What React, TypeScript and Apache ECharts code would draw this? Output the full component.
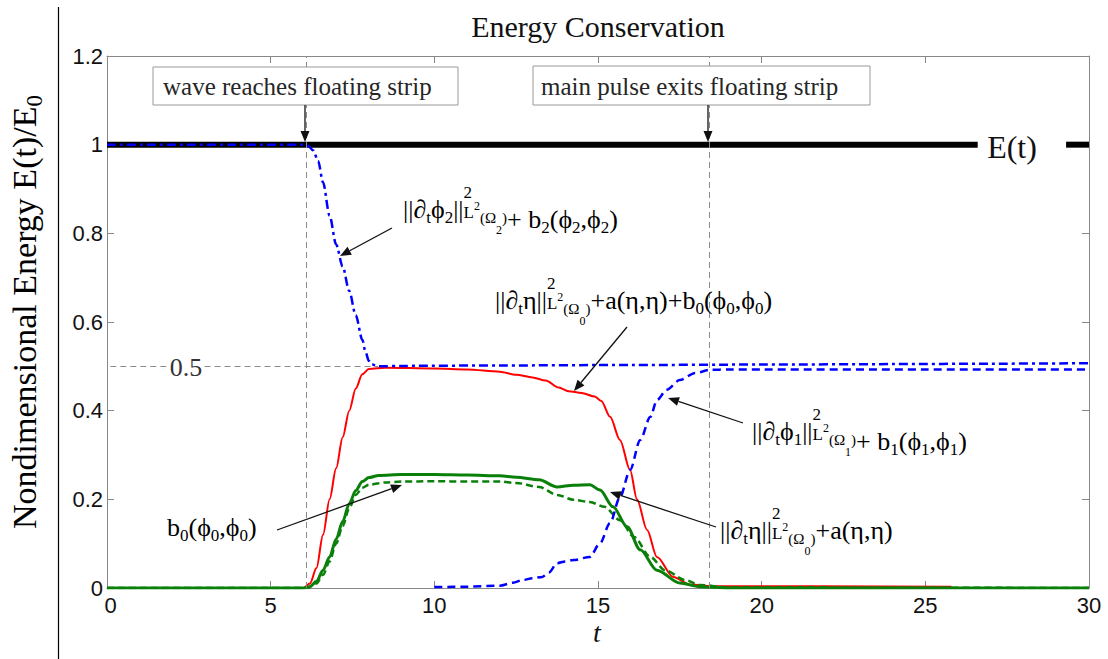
import React, { useEffect, useRef } from "react";
import * as echarts from "echarts";

// ---------- data ----------
const energyLeftT = [0, 26.6];
const energyRightT = [29.3, 30];
const energyLevel = 1.0;

const phi2T = [0, 6.0, 6.15, 6.3, 6.45, 6.6, 6.8, 7.0, 7.2, 7.4, 7.6, 7.8, 7.9, 8.0, 8.1, 8.3, 9, 12, 16, 20, 24, 27, 30];
const phi2V = [1.0, 1.0, 0.997, 0.987, 0.963, 0.915, 0.84, 0.775, 0.725, 0.67, 0.615, 0.56, 0.532, 0.512, 0.504, 0.5, 0.501, 0.502, 0.503, 0.504, 0.505, 0.506, 0.507];

const totalT = [0, 6.0, 6.2, 6.4, 6.6, 6.8, 7.0, 7.2, 7.4, 7.6, 7.8, 8.0, 8.5, 10, 11, 12, 12.5, 13.0, 13.4, 13.8, 14.1, 14.5, 14.9, 15.1, 15.37, 15.67, 15.98, 16.19, 16.5, 16.8, 17.3, 17.8, 18.5, 25.8];
const totalV = [0, 0, 0.01, 0.045, 0.12, 0.2, 0.27, 0.34, 0.4, 0.45, 0.482, 0.494, 0.497, 0.495, 0.493, 0.488, 0.481, 0.475, 0.468, 0.452, 0.444, 0.44, 0.432, 0.422, 0.386, 0.334, 0.266, 0.2, 0.131, 0.07, 0.025, 0.008, 0.004, 0.003];

const etaT = [0, 6.0, 6.2, 6.4, 6.6, 6.8, 7.0, 7.2, 7.4, 7.6, 7.8, 8.0, 8.3, 9, 10, 11, 12, 12.5, 13.2, 13.75, 14.25, 14.75, 15.06, 15.46, 15.89, 16.29, 16.8, 17.5, 18.1, 19, 30];
const etaV = [0, 0, 0.003, 0.015, 0.04, 0.07, 0.11, 0.15, 0.19, 0.22, 0.24, 0.249, 0.254, 0.256, 0.256, 0.255, 0.253, 0.25, 0.244, 0.228, 0.232, 0.233, 0.221, 0.183, 0.138, 0.086, 0.04, 0.011, 0.003, 0, 0];

const b0T = [0, 6.1, 6.4, 6.6, 6.8, 7.0, 7.2, 7.4, 7.6, 7.8, 8.0, 8.5, 9, 10, 11, 12, 12.5, 13.2, 13.75, 14.25, 14.75, 15.2, 15.67, 16.1, 16.6, 17.05, 17.66, 18.1, 19, 30];
const b0V = [0, 0, 0.01, 0.03, 0.06, 0.1, 0.14, 0.18, 0.21, 0.226, 0.233, 0.238, 0.24, 0.241, 0.24, 0.24, 0.237, 0.228, 0.21, 0.199, 0.194, 0.183, 0.153, 0.115, 0.07, 0.04, 0.018, 0.007, 0.001, 0];

const phi1T = [10, 11, 12, 12.4, 12.7, 13.0, 13.3, 13.5, 13.75, 14.0, 14.25, 14.75, 15.06, 15.37, 15.67, 15.98, 16.29, 16.6, 16.8, 17.1, 17.5, 17.97, 18.42, 19, 20, 25, 30];
const phi1V = [0.002, 0.003, 0.005, 0.012, 0.018, 0.022, 0.025, 0.035, 0.056, 0.06, 0.063, 0.07, 0.101, 0.147, 0.205, 0.266, 0.334, 0.386, 0.424, 0.447, 0.469, 0.485, 0.492, 0.493, 0.493, 0.493, 0.493];

const eventT = [6.08, 18.4]; // wave reaches / main pulse exits
const halfLevel = 0.5;
const halfSegments = [[0.1, 1.92], [2.98, 8.28]];

const xTickStep = 5;
const yTickStep = 0.2;

// ---------- helpers ----------
const zip = (t: number[], v: number[]) => t.map((x, i) => [x, v[i]]);
const SERIF = "'Liberation Serif', 'Times New Roman', serif";
const SANS = "'Liberation Sans', Arial, sans-serif";
const TXT = "#262626";

function arrow(x1: number, y1: number, x2: number, y2: number) {
  const dx = x2 - x1, dy = y2 - y1;
  const len = Math.hypot(dx, dy);
  const ux = dx / len, uy = dy / len;
  const hl = 11, hw = 4.5;
  const bx = x2 - ux * hl, by = y2 - uy * hl;
  return [
    { type: "line", z: 100, shape: { x1, y1, x2: bx, y2: by }, style: { stroke: "#111", lineWidth: 1.3 } },
    {
      type: "polygon", z: 100,
      shape: { points: [[x2, y2], [bx - uy * hw, by + ux * hw], [bx + uy * hw, by - ux * hw]] },
      style: { fill: "#111" },
    },
  ];
}

// line box is 50 px high; main text centred at 25
const f = (size: number) => ({ fontSize: size, fontFamily: SERIF, color: TXT });
const rich = {
  m: { ...f(26), lineHeight: 50, verticalAlign: "middle" },
  sub: { ...f(17), verticalAlign: "bottom", height: 34 },
  supw: { ...f(17), verticalAlign: "top", height: 16, width: 0 },
  lL: { ...f(17), verticalAlign: "bottom", height: 44 },
  lsup: { ...f(12), verticalAlign: "top", height: 44 },
  om: { ...f(15), verticalAlign: "bottom", height: 32 },
  ss: { ...f(12), verticalAlign: "bottom", height: 8 },
  lo: { ...f(26), verticalAlign: "bottom", height: 30 },
  losub: { ...f(17), verticalAlign: "bottom", height: 14 },
};

function formula(x: number, y: number, text: string) {
  return {
    type: "text", z: 100, x, y,
    style: { text, rich, align: "left", textAlign: "left", verticalAlign: "top", textVerticalAlign: "top" },
  };
}

const norm = (v: string, k: string) => `{m|||∂}{sub|t}{m|${v}}${k ? `{sub|${k}}` : ""}{m|||}{supw|2}{lL|L}{lsup|2}{om|(Ω}`;
const phi2Label = norm("ϕ", "2") + "{ss|2}{om|)}{lo|+ b}{losub|2}{lo|(ϕ}{losub|2}{lo|,ϕ}{losub|2}{lo|)}";
const phi1Label = norm("ϕ", "1") + "{ss|1}{om|)}{lo|+ b}{losub|1}{lo|(ϕ}{losub|1}{lo|,ϕ}{losub|1}{lo|)}";
const totalLabel = norm("η", "") + "{ss|0}{om|)}{m|+a(η,η)+b}{sub|0}{m|(ϕ}{sub|0}{m|,ϕ}{sub|0}{m|)}";
const etaLabel = norm("η", "") + "{ss|0}{om|)}{m|+a(η,η)}";
const b0Label = "{m|b}{sub|0}{m|(ϕ}{sub|0}{m|,ϕ}{sub|0}{m|)}";

export default function App() {
  const ref = useRef<HTMLDivElement>(null);

  useEffect(() => {
    if (!ref.current) return;
    const chart = echarts.init(ref.current, undefined, { renderer: "svg" });

    const axisLineStyle = { color: "#888", width: 1 };
    const baseX = {
      type: "value", min: 0, max: 30, interval: xTickStep,
      axisLine: { show: true, onZero: false, lineStyle: axisLineStyle },
      axisTick: { show: true, inside: true, length: 7, lineStyle: axisLineStyle },
      splitLine: { show: false },
    };
    const baseY = {
      type: "value", min: 0, max: 1.2, interval: yTickStep,
      axisLine: { show: true, onZero: false, lineStyle: axisLineStyle },
      axisTick: { show: true, inside: true, length: 7, lineStyle: axisLineStyle },
      splitLine: { show: false },
    };

    const guideStyle = { color: "#8a8a8a", width: 1, type: [6, 4] };

    const option = {
      animation: false,
      backgroundColor: "#fff",
      grid: { left: 107, right: 19, top: 56, bottom: 71, containLabel: false },
      xAxis: [
        {
          ...baseX, position: "bottom",
          axisLabel: {
            color: "#111", fontSize: 22, fontFamily: SANS, margin: 6,
            formatter: (v: number) => (v === 0 ? "{z|0}" : String(v)),
            rich: { z: { color: "#111", fontSize: 22, fontFamily: SANS, padding: [0, 0, 0, 7] } },
          },
        },
        { ...baseX, position: "top", axisLabel: { show: false } },
      ],
      yAxis: [
        { ...baseY, position: "left", axisLabel: { color: "#111", fontSize: 22, fontFamily: SANS, margin: 4 } },
        { ...baseY, position: "right", axisLabel: { show: false } },
      ],
      series: [
        {
          type: "line", name: "E(t)", showSymbol: false, data: energyLeftT.map((t) => [t, energyLevel]),
          lineStyle: { color: "#000", width: 6 }, z: 2,
          markLine: {
            silent: true, symbol: "none", label: { show: false }, lineStyle: guideStyle,
            data: [
              ...eventT.map((t) => [{ coord: [t, 0] }, { coord: [t, 1.2] }]),
              ...halfSegments.map((s) => [{ coord: [s[0], halfLevel] }, { coord: [s[1], halfLevel] }]),
            ],
          },
        },
        {
          type: "line", name: "E(t) end", showSymbol: false, data: energyRightT.map((t) => [t, energyLevel]),
          lineStyle: { color: "#000", width: 6 }, z: 2,
        },
        {
          type: "line", name: "phi2", showSymbol: false, data: zip(phi2T, phi2V), smooth: 0.3, smoothMonotone: "x",
          lineStyle: { color: "#0000ff", width: 2.5, type: [9, 4, 3, 4] }, z: 4,
        },
        {
          type: "line", name: "total", showSymbol: false, data: zip(totalT, totalV), smooth: 0.3, smoothMonotone: "x",
          lineStyle: { color: "#ff0000", width: 2 }, z: 3,
        },
        {
          type: "line", name: "eta", showSymbol: false, data: zip(etaT, etaV), smooth: 0.3, smoothMonotone: "x",
          lineStyle: { color: "#0a800a", width: 3 }, z: 3,
        },
        {
          type: "line", name: "b0", showSymbol: false, data: zip(b0T, b0V), smooth: 0.3, smoothMonotone: "x",
          lineStyle: { color: "#0a800a", width: 2.5, type: [7, 4] }, z: 3,
        },
        {
          type: "line", name: "phi1", showSymbol: false, data: zip(phi1T, phi1V), smooth: 0.3, smoothMonotone: "x",
          lineStyle: { color: "#0000ff", width: 2.5, type: [8, 5] }, z: 4,
        },
      ],
      graphic: [
        // page rule on the left
        { type: "line", z: 100, shape: { x1: 58.5, y1: 7, x2: 58.5, y2: 659 }, style: { stroke: "#000", lineWidth: 1.2 } },
        // title
        {
          type: "text", z: 100, x: 598, y: 26,
          style: { text: "Energy Conservation", font: `30px ${SERIF}`, fill: "#111", align: "center", textAlign: "center", verticalAlign: "middle", textVerticalAlign: "middle" },
        },
        // y axis name
        {
          type: "text", z: 100, x: 24, y: 312, rotation: Math.PI / 2,
          style: {
            text: "{a|Nondimensional Energy E(t)/E}{b|0}",
            rich: {
              a: { fontSize: 34, fontFamily: SERIF, color: "#111", lineHeight: 44, verticalAlign: "middle" },
              b: { fontSize: 23, fontFamily: SERIF, color: "#111", verticalAlign: "bottom", height: 24 },
            },
            align: "center", textAlign: "center", verticalAlign: "middle", textVerticalAlign: "middle",
          },
        },
        // x axis name
        {
          type: "text", z: 100, x: 597, y: 632,
          style: { text: "t", font: `italic 28px ${SERIF}`, fill: "#111", align: "center", textAlign: "center", verticalAlign: "middle", textVerticalAlign: "middle" },
        },
        // event boxes
        { type: "rect", z: 99, shape: { x: 153, y: 67, width: 305, height: 38 }, style: { fill: "#fff", stroke: "#999", lineWidth: 1 } },
        {
          type: "text", z: 100, x: 163, y: 86,
          style: { text: "wave reaches floating strip", font: `25px ${SERIF}`, fill: TXT, align: "left", textAlign: "left", verticalAlign: "middle", textVerticalAlign: "middle" },
        },
        { type: "rect", z: 99, shape: { x: 533, y: 66, width: 337, height: 39 }, style: { fill: "#fff", stroke: "#999", lineWidth: 1 } },
        {
          type: "text", z: 100, x: 541, y: 86,
          style: { text: "main pulse exits floating strip", font: `25px ${SERIF}`, fill: TXT, align: "left", textAlign: "left", verticalAlign: "middle", textVerticalAlign: "middle" },
        },
        ...arrow(305, 105, 305, 142),
        ...arrow(708, 105, 708, 142),
        // E(t) label
        {
          type: "text", z: 100, x: 1012, y: 147,
          style: { text: "E(t)", font: `32px ${SERIF}`, fill: "#111", align: "center", textAlign: "center", verticalAlign: "middle", textVerticalAlign: "middle" },
        },
        // 0.5 label
        {
          type: "text", z: 100, x: 186, y: 367,
          style: { text: "0.5", font: `26px ${SERIF}`, fill: "#333", align: "center", textAlign: "center", verticalAlign: "middle", textVerticalAlign: "middle" },
        },
        // formula labels
        formula(403, 184, phi2Label),
        formula(495, 275, totalLabel),
        formula(752, 406, phi1Label),
        formula(720, 505, etaLabel),
        formula(167, 502, b0Label),
        ...arrow(392, 228, 340, 256),
        ...arrow(627, 327, 574, 391),
        ...arrow(743, 423, 668, 398),
        ...arrow(716, 527, 610, 492),
        ...arrow(277, 530, 402, 485),
      ],
    };

    chart.setOption(option as any);
    return () => chart.dispose();
  }, []);

  return <div ref={ref} style={{ position: "fixed", left: 0, top: 0, width: 1108, height: 659, background: "#fff" }} />;
}
